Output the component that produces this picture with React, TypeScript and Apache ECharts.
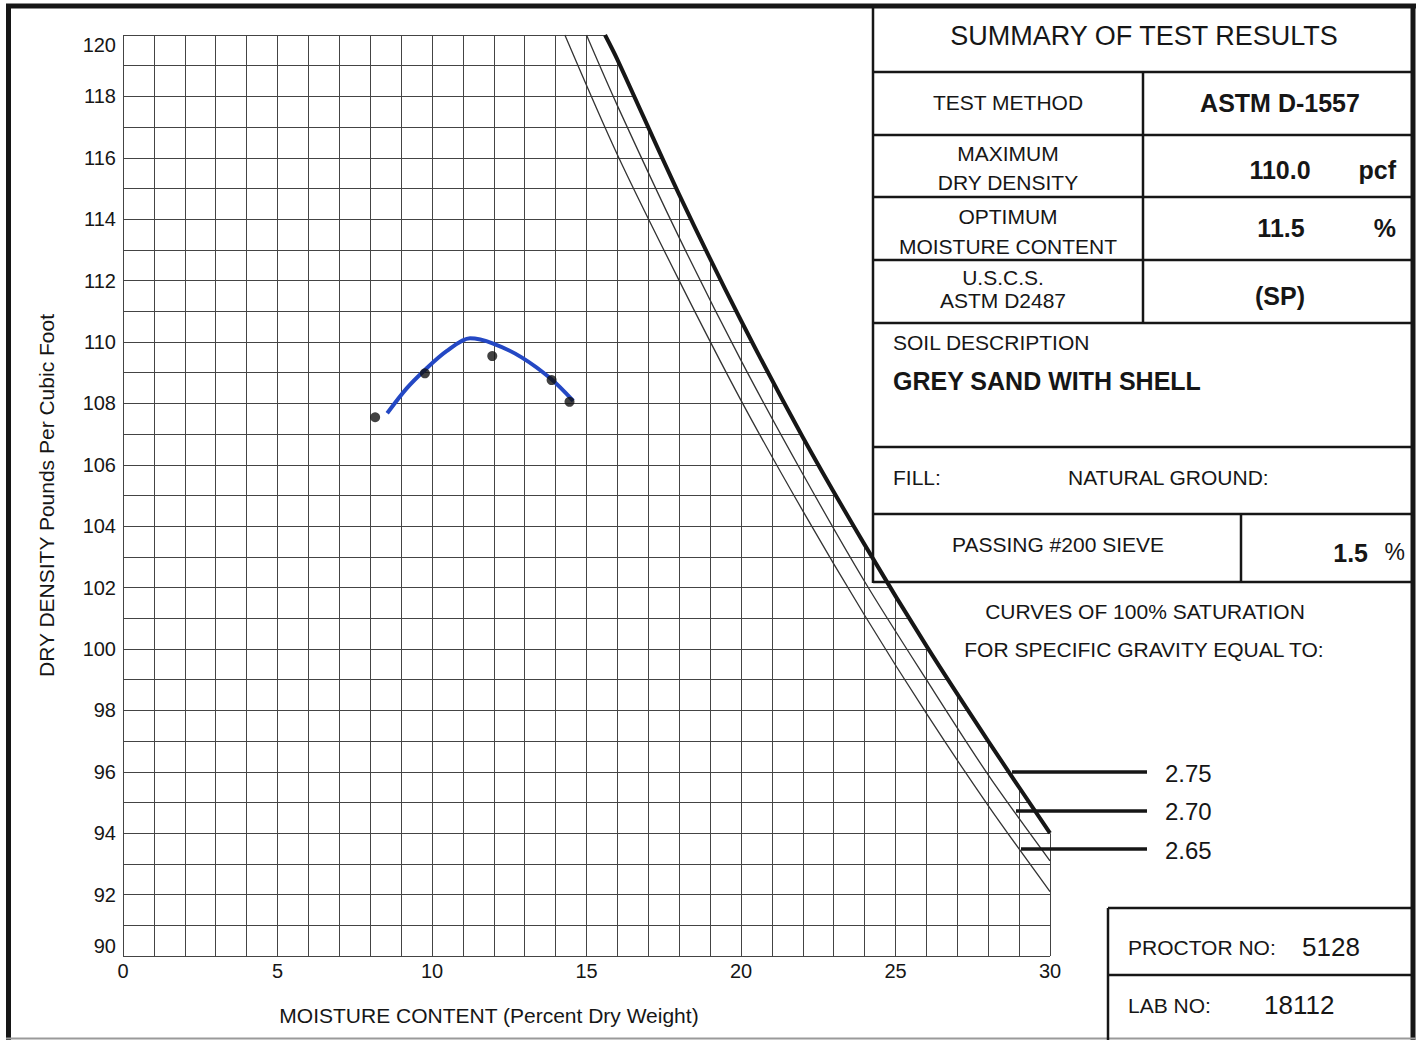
import React, { useEffect, useRef } from "react";
import * as echarts from "echarts";

// Compaction test points (moisture %, dry density pcf)
const testMoisture = [8.16, 9.77, 11.95, 13.87, 14.45];
const testDensity = [107.55, 108.98, 109.54, 108.76, 108.05];

// Fitted compaction curve
const curveMoisture = [8.55, 9.18, 9.77, 10.47, 11.23, 11.98, 12.9, 13.85, 14.57];
const curveDensity = [107.68, 108.49, 109.09, 109.7, 110.12, 109.95, 109.5, 108.8, 108.08];

// Curves of 100% saturation
const gravityLabels = ["2.75", "2.70", "2.65"];
const sat275Moisture = [15.6, 16, 18, 20, 22, 24, 26, 28, 30];
const sat275Density = [120.0, 119.2, 114.8, 110.7, 106.9, 103.4, 100.1, 97.0, 94.0];
const sat270Moisture = [15.0, 16, 18, 20, 22, 24, 26, 28, 30];
const sat270Density = [120.0, 117.7, 113.4, 109.4, 105.7, 102.2, 99.0, 95.9, 93.1];
const sat265Moisture = [14.3, 16, 18, 20, 22, 24, 26, 28, 30];
const sat265Density = [120.0, 116.1, 112.0, 108.1, 104.5, 101.1, 97.9, 94.9, 92.1];

const FONT = "'Liberation Sans', Arial, Helvetica, sans-serif";
const INK = "#161616";

const zip = (xs: number[], ys: number[]) => xs.map((x, i) => [x, ys[i]]);

function txt(text: string, x: number, y: number, size: number, align = "center", weight = "normal") {
  return {
    type: "text",
    z: 30,
    style: {
      text,
      x,
      y,
      fontSize: size,
      fontFamily: FONT,
      fontWeight: weight,
      fill: INK,
      textAlign: align,
      textVerticalAlign: "middle",
      align,
      verticalAlign: "middle",
    },
  };
}

function ln(x1: number, y1: number, x2: number, y2: number, w = 2.5, color = INK) {
  return {
    type: "line",
    z: 30,
    shape: { x1, y1, x2, y2 },
    style: { stroke: color, lineWidth: w },
  };
}

export default function App() {
  const ref = useRef<HTMLDivElement>(null);

  useEffect(() => {
    if (!ref.current) return;
    const chart = echarts.init(ref.current, undefined, { renderer: "svg" });

    const tableLines: any[] = [
      // outer frame
      ln(8.5, 4, 8.5, 1040, 5),
      ln(6, 6, 1416, 6, 5),
      ln(1413, 4, 1413, 1040, 5),
      ln(6, 1038.5, 1416, 1038.5, 2, "#9a9a9a"),
      // summary table
      ln(873, 6, 873, 583, 2.5),
      ln(873, 72, 1413, 72),
      ln(873, 135, 1413, 135),
      ln(873, 197, 1413, 197),
      ln(873, 260, 1413, 260),
      ln(873, 323, 1413, 323),
      ln(873, 447, 1413, 447),
      ln(873, 514, 1413, 514),
      ln(873, 582, 1413, 582),
      ln(1143, 72, 1143, 323),
      ln(1241, 514, 1241, 582),
      // proctor box
      ln(1108, 908, 1108, 1040),
      ln(1108, 908, 1413, 908),
      ln(1108, 975, 1413, 975),
      // saturation leaders
      ln(1012, 772, 1147, 772, 3.5),
      ln(1016, 811, 1147, 811, 3.5),
      ln(1021, 849, 1147, 849, 3.5),
    ];

    const texts: any[] = [
      txt("SUMMARY OF TEST RESULTS", 1144, 36, 27),
      txt("TEST METHOD", 1008, 102, 21),
      txt("ASTM D-1557", 1280, 103, 25, "center", "bold"),
      txt("MAXIMUM", 1008, 153, 21),
      txt("DRY DENSITY", 1008, 182, 21),
      txt("110.0", 1280, 170, 25, "center", "bold"),
      txt("pcf", 1396, 170, 25, "right", "bold"),
      txt("OPTIMUM", 1008, 216, 21),
      txt("MOISTURE CONTENT", 1008, 246, 21),
      txt("11.5", 1281, 228, 25, "center", "bold"),
      txt("%", 1396, 228, 25, "right", "bold"),
      txt("U.S.C.S.", 1003, 277, 21),
      txt("ASTM D2487", 1003, 300, 21),
      txt("(SP)", 1280, 296, 25, "center", "bold"),
      txt("SOIL DESCRIPTION", 893, 342, 21, "left"),
      txt("GREY SAND WITH SHELL", 893, 381, 25, "left", "bold"),
      txt("FILL:", 893, 477, 21, "left"),
      txt("NATURAL GROUND:", 1068, 477, 21, "left"),
      txt("PASSING #200 SIEVE", 1058, 544, 21),
      txt("1.5", 1368, 553, 25, "right", "bold"),
      txt("%", 1405, 552, 23, "right"),
      txt("CURVES OF 100% SATURATION", 1145, 611, 21),
      txt("FOR SPECIFIC GRAVITY EQUAL TO:", 1144, 649, 21),
      txt(gravityLabels[0], 1165, 773, 24, "left"),
      txt(gravityLabels[1], 1165, 811, 24, "left"),
      txt(gravityLabels[2], 1165, 850, 24, "left"),
      txt("PROCTOR NO:", 1128, 947, 21, "left"),
      txt("5128", 1302, 947, 26, "left"),
      txt("LAB NO:", 1128, 1005, 21, "left"),
      txt("18112", 1264, 1005, 26, "left"),
      txt("MOISTURE CONTENT (Percent Dry Weight)", 489, 1015, 21),
    ];

    const gridLine = { color: "#444444", width: 1 };

    chart.setOption({
      animation: false,
      backgroundColor: "#ffffff",
      textStyle: { fontFamily: FONT },
      grid: { left: 123, top: 35, width: 927, height: 921, containLabel: false },
      xAxis: {
        type: "value",
        min: 0,
        max: 30,
        interval: 1,
        z: 0,
        axisLine: { show: false },
        axisTick: { show: false },
        splitLine: { show: true, lineStyle: gridLine },
        axisLabel: {
          formatter: (v: number) => (v % 5 === 0 ? String(v) : ""),
          fontSize: 20,
          color: INK,
          fontFamily: FONT,
          margin: 5,
        },
      },
      yAxis: {
        type: "value",
        min: 90,
        max: 120,
        interval: 1,
        z: 0,
        name: "DRY DENSITY Pounds Per Cubic Foot",
        nameLocation: "middle",
        nameGap: 66,
        nameTextStyle: { fontSize: 21, color: INK, fontFamily: FONT },
        axisLine: { show: false },
        axisTick: { show: false },
        splitLine: { show: true, lineStyle: gridLine },
        axisLabel: {
          formatter: (v: number) => (v % 2 === 0 ? String(v) : ""),
          fontSize: 20,
          color: INK,
          fontFamily: FONT,
          margin: 7,
          verticalAlignMinLabel: "bottom",
          verticalAlignMaxLabel: "top",
        },
      },
      series: [
        {
          // white mask over the grid beyond the 2.75 saturation curve
          name: "mask",
          type: "custom",
          silent: true,
          clip: false,
          z: 3,
          data: zip(sat275Moisture, sat275Density),
          renderItem: (params: any, api: any) => {
            if (params.dataIndex !== 0) return null;
            const pts: number[][] = sat275Moisture.map((x, i) => api.coord([x, sat275Density[i]]));
            const first = pts[0];
            const last = pts[pts.length - 1];
            const poly = [
              [first[0], first[1] - 3],
              ...pts,
              [last[0] + 3, last[1]],
              [last[0] + 3, first[1] - 3],
            ];
            return { type: "polygon", shape: { points: poly }, style: { fill: "#ffffff", stroke: null } };
          },
        },
        {
          name: "Gs 2.75",
          type: "line",
          data: zip(sat275Moisture, sat275Density),
          symbol: "none",
          smooth: 0.3,
          lineStyle: { color: INK, width: 4 },
          z: 4,
        },
        {
          name: "Gs 2.70",
          type: "line",
          data: zip(sat270Moisture, sat270Density),
          symbol: "none",
          smooth: 0.3,
          lineStyle: { color: "#333", width: 1.3 },
          z: 4,
        },
        {
          name: "Gs 2.65",
          type: "line",
          data: zip(sat265Moisture, sat265Density),
          symbol: "none",
          smooth: 0.3,
          lineStyle: { color: "#333", width: 1.3 },
          z: 4,
        },
        {
          name: "Compaction curve",
          type: "line",
          data: zip(curveMoisture, curveDensity),
          smooth: 0.3,
          symbol: "none",
          lineStyle: { color: "#2448c4", width: 4 },
          z: 5,
        },
        {
          name: "Test points",
          type: "scatter",
          data: zip(testMoisture, testDensity),
          symbolSize: 10,
          itemStyle: { color: "#111" },
          z: 6,
        },
      ],
      graphic: [...tableLines, ...texts],
    });

    return () => chart.dispose();
  }, []);

  return (
    <div
      ref={ref}
      style={{ position: "absolute", left: 0, top: 0, width: 1420, height: 1040, background: "#fff" }}
    />
  );
}
